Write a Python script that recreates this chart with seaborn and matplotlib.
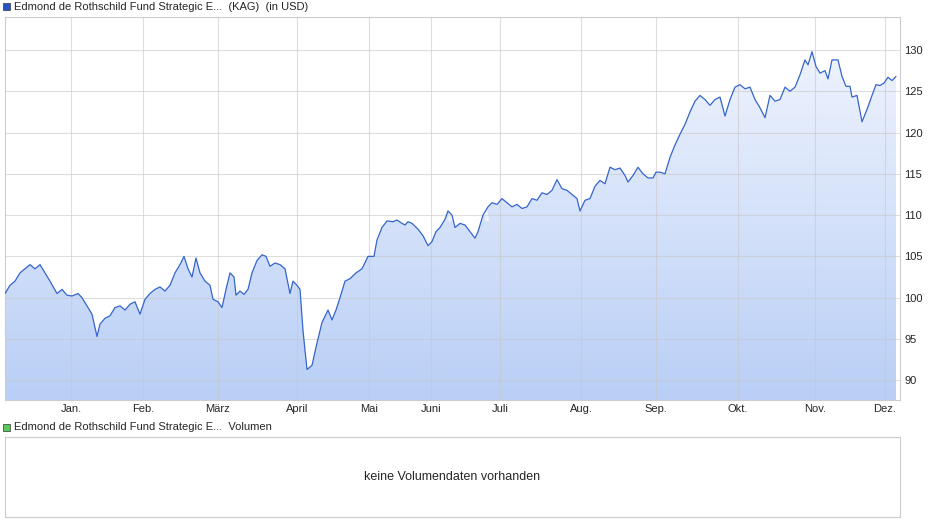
import numpy as np
import matplotlib
matplotlib.use("Agg")
import matplotlib.pyplot as plt
import seaborn as sns
from matplotlib.patches import Rectangle

sns.set_style("white")
plt.rcParams['font.family'] = ['Liberation Sans', 'DejaVu Sans']

# position along the time axis (chart units) and fund price
pos = [5, 10, 15, 20, 25, 30, 35, 40, 45, 50, 57, 62, 67, 72, 78, 82, 87, 92, 97, 100,
       105, 110, 115, 120, 125, 130, 135, 140, 145, 150, 155, 160, 165, 170, 175, 180, 184, 188, 192, 196,
       200, 205, 210, 213, 218, 222, 226, 230, 234, 236, 240, 244, 248, 252, 257, 262, 266, 270, 275, 280,
       285, 290, 293, 297, 300, 303, 307, 312, 316, 322, 328, 332, 336, 340, 345, 350, 356, 362, 368, 374,
       377, 382, 387, 393, 397, 402, 405, 408, 412, 418, 423, 428, 432, 436, 440, 445, 448, 452, 455, 460,
       465, 470, 475, 478, 483, 488, 492, 497, 502, 507, 512, 517, 522, 527, 532, 537, 542, 547, 552, 557,
       562, 567, 572, 577, 580, 585, 590, 595, 600, 605, 610, 615, 620, 625, 628, 633, 638, 643, 648, 653,
       656, 660, 665, 670, 675, 680, 685, 690, 695, 700, 705, 710, 715, 720, 725, 730, 735, 740, 745, 750,
       755, 760, 765, 770, 775, 780, 785, 790, 795, 800, 805, 808, 812, 816, 820, 825, 828, 832, 838, 842,
       846, 850, 852, 857, 862, 867, 872, 876, 880, 884, 888, 892, 896]
price = [100.5, 101.5, 102, 103, 103.5, 104, 103.5, 104, 103, 102, 100.5, 101, 100.3, 100.2, 100.5, 100, 99, 98, 95.3, 96.8,
         97.5, 97.8, 98.8, 99, 98.5, 99.2, 99.5, 98, 99.8, 100.5, 101, 101.3, 100.8, 101.5, 103, 104, 105, 103.5, 102.5, 104.8,
         103, 102, 101.5, 99.8, 99.5, 98.8, 101, 103, 102.5, 100.3, 100.8, 100.4, 101, 103, 104.5, 105.2, 105, 103.8, 104.2, 104,
         103.5, 100.5, 102, 101.5, 101, 96, 91.3, 91.8, 94, 97, 98.5, 97.3, 98.5, 100, 102, 102.3, 103, 103.5, 105, 105,
         107, 108.5, 109.3, 109.2, 109.4, 109, 108.8, 109.2, 109, 108.3, 107.5, 106.3, 106.8, 108, 108.5, 109.5, 110.5, 110, 108.5, 109,
         108.8, 108, 107.2, 108, 110, 111, 111.5, 111.3, 112, 111.5, 111, 111.3, 110.8, 111, 112, 111.8, 112.7, 112.5, 113, 114.3,
         113.2, 113, 112.5, 112, 110.5, 111.8, 112, 113.5, 114.2, 113.8, 115.8, 115.5, 115.7, 114.8, 114, 114.8, 115.8, 115, 114.5, 114.5,
         115.2, 115.2, 115, 117, 118.5, 119.8, 121, 122.5, 123.8, 124.5, 124, 123.3, 124, 124.3, 122, 124, 125.5, 125.8, 125.3, 125.5,
         124, 123, 121.8, 124.5, 123.8, 124, 125.5, 125, 125.5, 127, 128.8, 128.2, 129.8, 128, 127.2, 127.5, 126.5, 128.8, 128.8, 126.8,
         125.6, 125.6, 124.3, 124.5, 121.3, 122.8, 124.5, 125.8, 125.7, 126, 126.7, 126.3, 126.8]

month_labels = ["Jan.", "Feb.", "März", "April", "Mai", "Juni", "Juli", "Aug.", "Sep.", "Okt.", "Nov.", "Dez."]
month_pos = [71, 143, 218, 297, 369, 431, 500, 581, 656, 738, 815, 885]
y_ticks = [90, 95, 100, 105, 110, 115, 120, 125, 130]

W, H = 940, 526
fig = plt.figure(figsize=(W / 100, H / 100), dpi=100)
ax = fig.add_axes([5 / W, 1 - 400 / H, 895 / W, 383 / H])
x0, x1, y0, y1 = 5, 900, 87.6, 134.0

# gradient area under the line
grad = np.linspace(0, 1, 256).reshape(-1, 1)
cmap = matplotlib.colors.LinearSegmentedColormap.from_list("g", ["#b9cff6", "#f3f6fe"])
im = ax.imshow(grad, extent=[x0, x1, y0, y1], origin="lower", aspect="auto", cmap=cmap, zorder=1)
clip = matplotlib.path.Path(np.vstack([np.column_stack([pos, price]),
                                       [[pos[-1], y0], [pos[0], y0]]]))
im.set_clip_path(clip, ax.transData)
sns.lineplot(x=pos, y=price, ax=ax, color="#3565cc", lw=0.9, zorder=3)

ax.text(450, 110.1, "ARIVA", fontsize=20, color="white", alpha=0.6, ha="center",
        va="center", fontweight="bold", style="italic", zorder=2)

ax.set_xlim(x0, x1)
ax.set_ylim(y0, y1)
ax.set_xticks(month_pos)
ax.set_xticklabels(month_labels, fontsize=8)
ax.yaxis.tick_right()
ax.set_yticks(y_ticks)
ax.set_yticklabels([str(v) for v in y_ticks], fontsize=8)
ax.tick_params(length=0, pad=3)
ax.set_axisbelow(False)
ax.grid(True, color="#c8c8c8", lw=0.8, alpha=0.6, zorder=2)
for s in ax.spines.values():
    s.set_color("#cccccc")
    s.set_linewidth(0.8)

# legend lines
fig.patches.append(Rectangle((3 / W, 1 - 10 / H), 7 / W, 7 / H, transform=fig.transFigure,
                             facecolor="#2456c8", edgecolor="#333333", lw=0.5))
fig.text(14 / W, 1 - 6.5 / H, "Edmond de Rothschild Fund Strategic E...  (KAG)  (in USD)",
         fontsize=8, va="center")
fig.patches.append(Rectangle((3 / W, 1 - 431 / H), 7 / W, 7 / H, transform=fig.transFigure,
                             facecolor="#5cc85c", edgecolor="#333333", lw=0.5))
fig.text(14 / W, 1 - 427.5 / H, "Edmond de Rothschild Fund Strategic E...  Volumen",
         fontsize=8, va="center")

ax2 = fig.add_axes([5 / W, 1 - 517 / H, 895 / W, 80 / H])
ax2.set_xticks([])
ax2.set_yticks([])
for s in ax2.spines.values():
    s.set_color("#cccccc")
    s.set_linewidth(0.8)
ax2.text(0.5, 0.5, "keine Volumendaten vorhanden", ha="center", va="center",
         fontsize=9, transform=ax2.transAxes)

fig.savefig("out.png", dpi=100)
